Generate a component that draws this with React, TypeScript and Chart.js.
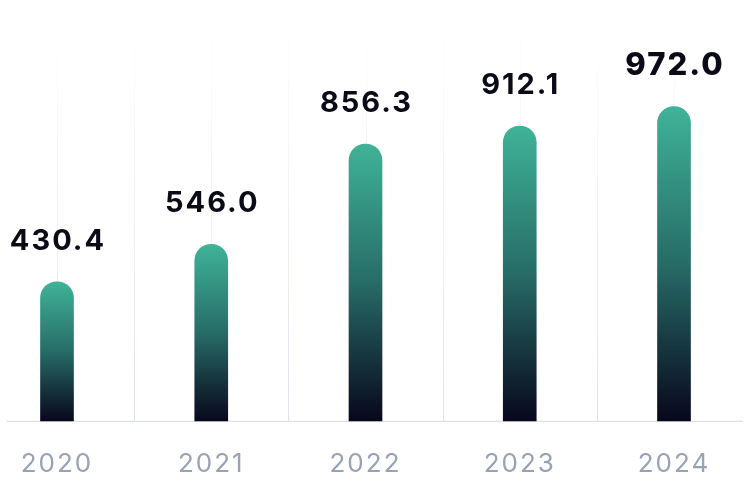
import { useEffect, useRef } from 'react'
import Chart from 'chart.js/auto'

const YEARS = ['2020', '2021', '2022', '2023', '2024']
const VALUES = [430.4, 546.0, 856.3, 912.1, 972.0]
const Y_MAX = 1200

const TEAL = '#3fb398'
const MID = '#276c67'
const INK = '#08071c'
const GRID = '#dfe2ea'
const AXIS = '#d6d9e2'
const TICK = '#98a2b5'

// vertical lines at bar centres and between bars, fading out upwards
const gridPlugin = {
  id: 'fadeGrid',
  beforeDraw(chart: any) {
    ;(chart.ctx as any).letterSpacing = '2px'
  },
  beforeDatasetsDraw(chart: any) {
    const { ctx, chartArea, scales } = chart
    const xs = scales.x
    const g = ctx.createLinearGradient(0, 20, 0, chartArea.bottom)
    g.addColorStop(0, 'rgba(223,226,234,0)')
    g.addColorStop(1, GRID)
    ctx.save()
    ctx.strokeStyle = g
    ctx.lineWidth = 1
    const pos: number[] = []
    YEARS.forEach((_, i) => {
      pos.push(xs.getPixelForValue(i))
      if (i > 0) pos.push((xs.getPixelForValue(i) + xs.getPixelForValue(i - 1)) / 2)
    })
    pos.forEach((x) => {
      ctx.beginPath()
      ctx.moveTo(Math.round(x) + 0.5, 20)
      ctx.lineTo(Math.round(x) + 0.5, chartArea.bottom)
      ctx.stroke()
    })
    ctx.strokeStyle = AXIS
    ctx.beginPath()
    ctx.moveTo(7, chartArea.bottom + 0.5)
    ctx.lineTo(743, chartArea.bottom + 0.5)
    ctx.stroke()
    ctx.restore()
  },
}

const valuePlugin = {
  id: 'valueLabels',
  afterDatasetsDraw(chart: any) {
    const { ctx } = chart
    const meta = chart.getDatasetMeta(0)
    ctx.save()
    ctx.fillStyle = '#0b0b18'
    ctx.textAlign = 'center'
    ctx.textBaseline = 'alphabetic'
    meta.data.forEach((bar: any, i: number) => {
      const last = i === VALUES.length - 1
      ctx.font = last ? '800 31px Inter' : '700 29px Inter'
      ;(ctx as any).letterSpacing = '2px'
      ctx.fillText(VALUES[i].toFixed(1), bar.x + 1, bar.y - 32)
    })
    ctx.restore()
  },
}

export default function App() {
  const ref = useRef<HTMLCanvasElement>(null)
  useEffect(() => {
    if (!ref.current) return
    const chart = new Chart(ref.current.getContext('2d')!, {
      type: 'bar',
      data: {
        labels: YEARS,
        datasets: [{
          data: VALUES,
          barThickness: 33,
          borderRadius: 17,
          borderSkipped: 'start',
          clip: false as any,
          backgroundColor: (c: any) => {
            const { chart } = c
            if (!chart.chartArea || c.type !== 'data') return TEAL
            const ys = chart.scales.y
            const top = ys.getPixelForValue(c.parsed.y)
            const bottom = ys.getPixelForValue(0)
            const g = chart.ctx.createLinearGradient(0, top, 0, bottom)
            g.addColorStop(0, TEAL)
            g.addColorStop(0.5, MID)
            g.addColorStop(1, INK)
            return g
          },
        }],
      },
      options: {
        responsive: true, maintainAspectRatio: false, animation: false,
        layout: { padding: { left: 57, right: 76, top: 33, bottom: -8 } },
        plugins: { legend: { display: false }, tooltip: { enabled: false } },
        scales: {
          x: {
            offset: false,
            grid: { display: false, drawTicks: false },
            border: { display: false },
            ticks: { color: TICK, padding: 28, font: { family: 'Inter', size: 26, weight: 400 } },
            afterFit: (s: any) => { s.paddingLeft = 0; s.paddingRight = 0 },
          },
          y: { display: false, min: 0, max: Y_MAX },
        },
      },
      plugins: [gridPlugin, valuePlugin],
    })
    return () => chart.destroy()
  }, [])
  return (
    <div style={{ position: 'absolute', left: 0, top: 0, width: 750, height: 500, background: '#fff' }}>
      <canvas ref={ref} role="img" aria-label="Values by year 2020-2024" />
    </div>
  )
}
